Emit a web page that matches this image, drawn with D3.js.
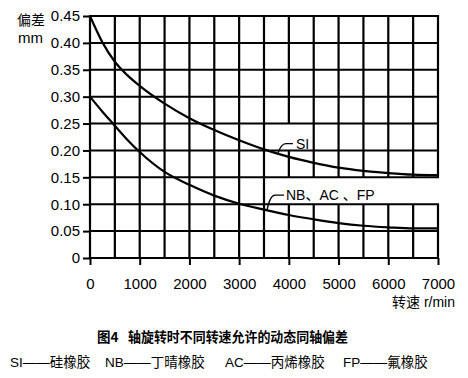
<!DOCTYPE html>
<html>
<head>
<meta charset="utf-8">
<script src="https://cdn.jsdelivr.net/npm/d3@7"></script>
<style>
  html, body { margin: 0; padding: 0; background: #fff; }
  svg { display: block; font-family: "Liberation Sans", "Noto Sans CJK SC", sans-serif; }
</style>
</head>
<body>
<div id="chart"></div>
<script>
// speed (r/min) and allowed dynamic coaxial deviation (mm)
const rpm   = [0, 250, 500, 750, 1000, 1500, 2000, 2500, 3000, 3500, 4000, 4500, 5000, 5500, 6000, 6500, 7000];
const siDev = [0.45, 0.401, 0.365, 0.340, 0.320, 0.287, 0.260, 0.238, 0.219, 0.202, 0.188, 0.177, 0.168, 0.162, 0.158, 0.155, 0.154];
const nbDev = [0.30, 0.272, 0.246, 0.220, 0.197, 0.160, 0.136, 0.116, 0.101, 0.090, 0.080, 0.072, 0.065, 0.060, 0.057, 0.055, 0.055];

const xTicks = [0, 1000, 2000, 3000, 4000, 5000, 6000, 7000];
const xGrid = [0, 500, 1000, 1500, 2000, 2500, 3000, 3500, 4000, 4500, 5000, 5500, 6000, 6500, 7000];
const yTicks = [0, 0.05, 0.10, 0.15, 0.20, 0.25, 0.30, 0.35, 0.40, 0.45];
const yTickLabels = ["0", "0.05", "0.10", "0.15", "0.20", "0.25", "0.30", "0.35", "0.40", "0.45"];

const legendItems = [
  { code: "SI", name: "硅橡胶" },
  { code: "NB", name: "丁晴橡胶" },
  { code: "AC", name: "丙烯橡胶" },
  { code: "FP", name: "氟橡胶" }
];

const W = 468, H = 378;
const svg = d3.select("#chart").append("svg")
  .attr("width", W).attr("height", H)
  .attr("viewBox", `0 0 ${W} ${H}`);

const x = d3.scaleLinear().domain([0, 7000]).range([90, 438]);
const y = d3.scaleLinear().domain([0, 0.45]).range([258, 16]);

// vertical grid, left open where the curve labels sit
const vp = d3.path();
xGrid.forEach(v => {
  const gaps = v === 4000 ? [[0.10, 0.15], [0.20, 0.25]] : (v > 4000 ? [[0.10, 0.15]] : []);
  let from = 0;
  gaps.forEach(([lo, hi]) => {
    vp.moveTo(x(v), y(from));
    vp.lineTo(x(v), y(lo));
    from = hi;
  });
  vp.moveTo(x(v), y(from));
  vp.lineTo(x(v), y(0.45) - 1);
});
svg.append("path")
  .attr("d", vp.toString())
  .attr("fill", "none")
  .attr("stroke", "#000")
  .attr("stroke-width", 2.2);

// horizontal grid
svg.append("g")
  .attr("stroke", "#000").attr("stroke-width", 2)
  .selectAll("line")
  .data(yTicks)
  .join("line")
  .attr("x1", x(0)).attr("x2", x(7000) + 1)
  .attr("y1", d => y(d)).attr("y2", d => y(d));

// y axis
const yAxis = svg.append("g")
  .attr("transform", `translate(${x(0)},0)`)
  .call(d3.axisLeft(y).tickValues(yTicks).tickSize(7).tickPadding(3)
    .tickFormat((d, i) => yTickLabels[i]));
yAxis.select(".domain").remove();
yAxis.selectAll(".tick line").attr("stroke", "#000").attr("stroke-width", 2);
yAxis.selectAll("text").attr("font-size", 15).attr("fill", "#000")
  .attr("font-family", "Liberation Sans");

// x axis
const xAxis = svg.append("g")
  .attr("transform", `translate(0,${y(0)})`)
  .call(d3.axisBottom(x).tickValues(xTicks).tickSize(7).tickPadding(13)
    .tickFormat(d3.format("d")));
xAxis.select(".domain").remove();
xAxis.selectAll(".tick line").attr("stroke", "#000").attr("stroke-width", 2);
xAxis.selectAll("text").attr("font-size", 15).attr("fill", "#000")
  .attr("font-family", "Liberation Sans");

// curves
const curve = d3.line()
  .x((d, i) => x(rpm[i]))
  .y(d => y(d))
  .curve(d3.curveMonotoneX);

[siDev, nbDev].forEach(series => {
  svg.append("path").datum(series)
    .attr("d", curve)
    .attr("fill", "none").attr("stroke", "#000").attr("stroke-width", 2.2);
});

// curve labels with leader hooks
function leader(px, py, tx, ty) {
  return `M${px},${py} Q${px + 3},${ty} ${px + 8},${ty} L${tx},${ty}`;
}
const siAnchor = [x(3780), y(0.194)];
svg.append("path")
  .attr("d", leader(siAnchor[0], siAnchor[1], siAnchor[0] + 15, siAnchor[1] - 10))
  .attr("fill", "none").attr("stroke", "#000").attr("stroke-width", 1.4);
svg.append("text")
  .attr("x", siAnchor[0] + 18).attr("y", siAnchor[1] - 5)
  .attr("font-size", 14).text("SI");

const nbAnchor = [x(3560), y(0.089)];
svg.append("path")
  .attr("d", leader(nbAnchor[0], nbAnchor[1], nbAnchor[0] + 17, nbAnchor[1] - 15))
  .attr("fill", "none").attr("stroke", "#000").attr("stroke-width", 1.4);
svg.append("text")
  .attr("x", nbAnchor[0] + 19).attr("y", nbAnchor[1] - 10)
  .attr("font-size", 14).text("NB、AC 、FP");

// axis titles
svg.append("text").attr("x", 17).attr("y", 25)
  .attr("font-size", 14).attr("font-family", "Noto Sans CJK SC").text("偏差");
svg.append("text").attr("x", 18).attr("y", 43)
  .attr("font-size", 15).text("mm");
svg.append("text").attr("x", 455).attr("y", 307)
  .attr("text-anchor", "end").attr("font-size", 14)
  .text("转速  r/min");

// caption
svg.append("text").attr("x", 97).attr("y", 342)
  .attr("font-size", 13.5).attr("font-weight", "bold")
  .attr("font-family", "Noto Sans CJK SC")
  .text("图4");
svg.append("text").attr("x", 128).attr("y", 342)
  .attr("font-size", 13.5).attr("font-weight", "bold")
  .attr("font-family", "Noto Sans CJK SC")
  .attr("textLength", 220).attr("lengthAdjust", "spacingAndGlyphs")
  .text("轴旋转时不同转速允许的动态同轴偏差");

const legendX = [10, 105, 225, 343];
svg.append("g").selectAll("text")
  .data(legendItems)
  .join("text")
  .attr("x", (d, i) => legendX[i]).attr("y", 367)
  .attr("font-size", 13.5)
  .text(d => `${d.code}——${d.name}`);
</script>
</body>
</html>
